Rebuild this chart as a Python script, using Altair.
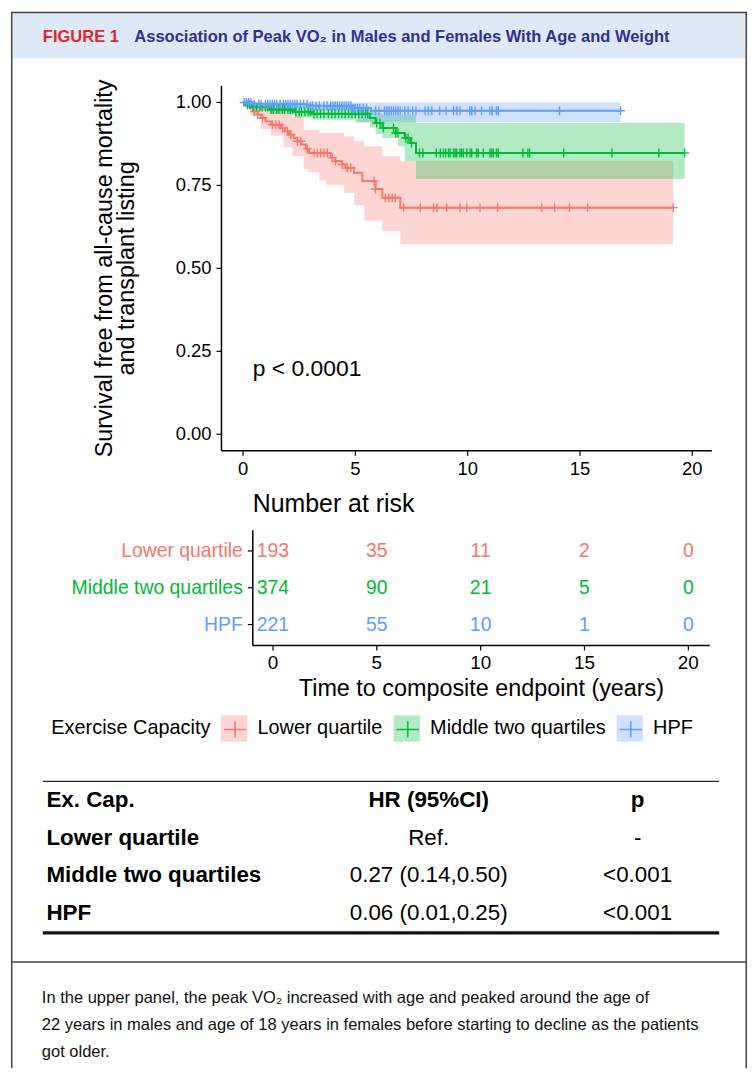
import altair as alt
import pandas as pd

# ---------------- data ----------------
GROUPS = ["Lower quartile", "Middle two quartiles", "HPF"]
COLORS = ["#F8766D", "#00BA38", "#619CFF"]

# Kaplan-Meier step estimates (years, survival)
lower_t = [0, 0.15, 0.3, 0.45, 0.65, 0.8, 1.0, 1.24, 1.68, 1.85, 2.05, 2.25, 2.42, 2.6, 2.8, 2.94,
           3.9, 4.1, 4.41, 4.56, 4.94, 5.31, 5.9, 6.2, 7.0, 19.15]
lower_s = [1.0, 0.99, 0.983, 0.973, 0.963, 0.953, 0.943, 0.933, 0.923, 0.913, 0.903, 0.893, 0.883,
           0.873, 0.86, 0.848, 0.833, 0.823, 0.813, 0.803, 0.788, 0.763, 0.739, 0.713, 0.683, 0.683]
middle_t = [0, 0.1, 0.4, 1.2, 2.3, 3.1, 5.65, 5.9, 6.2, 6.8, 7.2, 7.45, 7.7, 19.66]
middle_s = [1.0, 0.993, 0.986, 0.979, 0.972, 0.966, 0.953, 0.938, 0.923, 0.908, 0.893, 0.878, 0.848, 0.848]
hpf_t = [0, 0.45, 2.9, 4.9, 5.7, 16.81]
hpf_s = [1.0, 0.995, 0.99, 0.983, 0.975, 0.975]

# 95% confidence bands
lower_ci_t = [0, 0.3, 0.8, 1.24, 1.8, 2.2, 2.7, 2.9, 3.4, 3.7, 4.5, 4.95, 5.4, 6.2, 7.0, 19.15]
lower_hi = [1.0, 1.0, 0.99, 0.975, 0.965, 0.958, 0.918, 0.918, 0.908, 0.908, 0.898, 0.883, 0.868,
            0.838, 0.823, 0.823]
lower_lo = [1.0, 0.965, 0.92, 0.9, 0.865, 0.838, 0.8, 0.79, 0.765, 0.752, 0.728, 0.69, 0.644,
            0.613, 0.573, 0.573]
middle_ci_t = [0, 0.4, 1.2, 2.3, 3.1, 5.0, 5.65, 5.9, 6.2, 6.9, 7.2, 7.7, 19.66]
middle_hi = [1.0, 1.0, 1.0, 0.995, 0.99, 0.988, 0.975, 0.968, 0.963, 0.963, 0.963, 0.938, 0.938]
middle_lo = [1.0, 0.975, 0.965, 0.955, 0.948, 0.94, 0.925, 0.905, 0.893, 0.868, 0.823, 0.769, 0.769]
hpf_ci_t = [0, 0.45, 2.9, 4.9, 5.1, 16.81]
hpf_hi = [1.0, 1.0, 1.0, 1.0, 1.0, 1.0]
hpf_lo = [1.0, 0.985, 0.975, 0.96, 0.94, 0.94]

# censoring times
lower_cens = [0.5, 0.65, 0.87, 1.31, 1.46, 1.61, 1.76, 1.98, 2.13, 2.42, 2.57, 2.86, 3.16, 3.31,
              3.46, 3.6, 3.75, 3.97, 4.12, 4.41, 4.64, 4.8, 5.83, 5.9, 6.34, 6.49, 6.64, 6.78,
              7.15, 7.89, 8.48, 8.63, 9.07, 9.66, 9.96, 10.55, 11.33, 13.3, 13.87, 14.53, 15.34, 19.15]
middle_cens = [0.2, 0.3, 0.45, 0.6, 0.75, 0.85, 1.0, 1.1, 1.25, 1.35, 1.5, 1.6, 1.75, 1.85, 2.0,
               2.1, 2.2, 2.35, 2.5, 2.6, 2.75, 2.9, 3.0, 3.15, 3.3, 3.45, 3.6, 3.8, 3.95, 4.1,
               4.25, 4.4, 4.55, 4.7, 4.85, 5.0, 5.15, 5.3, 5.45, 5.55, 5.95, 6.1, 6.25, 6.7, 6.8,
               6.9, 7.25, 7.35, 7.5, 7.85, 8.0, 8.6, 8.78, 8.92, 9.03, 9.15, 9.22, 9.37, 9.44,
               9.51, 9.66, 9.73, 9.81, 9.96, 10.1, 10.18, 10.4, 10.47, 10.69, 10.99, 11.06, 11.14,
               11.28, 11.36, 12.46, 12.68, 12.76, 14.28, 16.42, 18.51, 19.66]
hpf_cens = [0.05, 0.15, 0.25, 0.35, 0.5, 0.7, 0.8, 1.0, 1.1, 1.2, 1.3, 1.4, 1.5, 1.65, 1.8, 1.9,
            2.0, 2.1, 2.2, 2.3, 2.4, 2.55, 2.7, 2.85, 3.0, 3.1, 3.25, 3.4, 3.6, 3.75, 3.9, 4.0,
            4.1, 4.2, 4.3, 4.4, 4.5, 4.6, 4.7, 4.8, 4.9, 5.0, 5.1, 5.2, 5.35, 5.5, 5.9, 6.05,
            6.3, 6.4, 6.5, 6.6, 6.7, 6.8, 6.9, 7.0, 7.2, 7.35, 7.55, 7.7, 8.1, 8.25, 8.4, 8.75,
            9.03, 9.37, 9.51, 9.66, 10.1, 10.18, 10.33, 10.62, 10.99, 11.09, 11.28, 11.36,
            14.09, 16.81]

# number at risk
risk_times = [0, 5, 10, 15, 20]
risk_lower = [193, 35, 11, 2, 0]
risk_middle = [374, 90, 21, 5, 0]
risk_hpf = [221, 55, 10, 1, 0]

# hazard ratio table
hr_header = ["Ex. Cap.", "HR (95%CI)", "p"]
hr_groups = ["Lower quartile", "Middle two quartiles", "HPF"]
hr_values = ["Ref.", "0.27 (0.14,0.50)", "0.06 (0.01,0.25)"]
hr_p = ["-", "<0.001", "<0.001"]

km_ticks_x = [0, 5, 10, 15, 20]
km_ticks_y = [0.0, 0.25, 0.5, 0.75, 1.0]

fig_label = "FIGURE 1"
fig_title = "Association of Peak VO\u2082 in Males and Females With Age and Weight"
caption = [
    "In the upper panel, the peak VO\u2082 increased with age and peaked around the age of",
    "22 years in males and age of 18 years in females before starting to decline as the patients",
    "got older.",
]

# ---------------- tables built from the arrays ----------------
series = [(GROUPS[0], lower_t, lower_s, lower_ci_t, lower_hi, lower_lo, lower_cens),
          (GROUPS[1], middle_t, middle_s, middle_ci_t, middle_hi, middle_lo, middle_cens),
          (GROUPS[2], hpf_t, hpf_s, hpf_ci_t, hpf_hi, hpf_lo, hpf_cens)]

line_rows, band_rows, cens_rows = [], [], []
for g, ts, ss, cts, his, los, cens in series:
    line_rows += [{"grp": g, "t": t, "s": s} for t, s in zip(ts, ss)]
    band_rows += [{"grp": g, "t": t, "hi": h, "lo": l} for t, h, l in zip(cts, his, los)]
    for c in cens:
        s_at = [s for t, s in zip(ts, ss) if t <= c][-1]
        cens_rows.append({"grp": g, "t": c, "s": s_at})
line_df = pd.DataFrame(line_rows)
band_df = pd.DataFrame(band_rows)
cens_df = pd.DataFrame(cens_rows)

risk_rows = []
for g, vals in zip(GROUPS, [risk_lower, risk_middle, risk_hpf]):
    risk_rows += [{"grp": g, "t": t, "n": str(n)} for t, n in zip(risk_times, vals)]
risk_df = pd.DataFrame(risk_rows)
grp_df = pd.DataFrame({"grp": GROUPS})

hr_df = pd.DataFrame({"row": [0, 1, 2, 3],
                      "c1": [hr_header[0]] + hr_groups,
                      "c2": [hr_header[1]] + hr_values,
                      "c3": [hr_header[2]] + hr_p})

xt_df = pd.DataFrame({"v": km_ticks_x, "lab": [str(v) for v in km_ticks_x]})
yt_df = pd.DataFrame({"v": km_ticks_y, "lab": ["%.2f" % v for v in km_ticks_y]})
one = pd.DataFrame({"k": [0]})

# ---------------- layout (page pixels -> chart pixels) ----------------
OX, OY = 10, 8
W, H = 740, 1062


def px(x):
    return x - OX


def py(y):
    return y - OY


FONT = "Liberation Sans, Arial, DejaVu Sans"
INK = "#000000"
FRAME = "#444444"

kx = alt.Scale(domain=[0, 20], range=[px(243.3), px(695.0)], nice=False, zero=False)
ky = alt.Scale(domain=[0, 1], range=[py(432.7), py(99.1)], nice=False, zero=False)
KX0, KX1, KY0, KY1 = -0.96, 20.87, -0.05, 1.05

rx = alt.Scale(domain=[0, 20], range=[px(273.4), px(691.0)], nice=False, zero=False)
ry = alt.Scale(type="point", domain=GROUPS, range=[py(550), py(624)], padding=0)
RX0, RX1 = -0.972, 21.03

hy = alt.Scale(domain=[0, 3], range=[py(800), py(914.5)], nice=False, zero=False)

col = alt.Scale(domain=GROUPS, range=COLORS)

KEY_X = [220.8, 394.4, 618.6]   # legend key left edges (page px)
KEY_Y = 715
leg_common = dict(orient="none", legendY=py(KEY_Y), title=None, symbolSize=702, padding=0,
                  labelFont=FONT, labelFontSize=20, labelColor=INK, labelOffset=10,
                  labelLimit=400)

layers = []

# frame and header band
layers.append(alt.Chart(one).mark_rect(fill="#dde9f5").encode(
    x=alt.value(1.5), x2=alt.value(W - 1.5), y=alt.value(1.5), y2=alt.value(py(55))))
layers.append(alt.Chart(one).mark_rule(color=FRAME, strokeWidth=1.5).encode(
    x=alt.value(0.75), x2=alt.value(W - 0.75), y=alt.value(0.75)))
layers.append(alt.Chart(one).mark_rule(color=FRAME, strokeWidth=1.5).encode(
    x=alt.value(0.75), y=alt.value(0), y2=alt.value(H)))
layers.append(alt.Chart(one).mark_rule(color=FRAME, strokeWidth=1.5).encode(
    x=alt.value(W - 0.75), y=alt.value(0), y2=alt.value(H)))
layers.append(alt.Chart(one).mark_text(align="left", baseline="middle", font=FONT,
                                       fontSize=16.6, fontWeight="bold", color="#e3262d").encode(
    x=alt.value(px(42)), y=alt.value(py(33)), text=alt.value(fig_label)))
layers.append(alt.Chart(one).mark_text(align="left", baseline="middle", font=FONT,
                                       fontSize=16.6, fontWeight="bold", color="#2e3192").encode(
    x=alt.value(px(134)), y=alt.value(py(33)), text=alt.value(fig_title)))

# --- KM plot: bands, lines (each with its own legend key) ---
band_layers, line_layers = [], []
for i, g in enumerate(GROUPS):
    one_col = alt.Scale(domain=[g], range=[COLORS[i]])
    band_layers.append(alt.Chart(band_df[band_df.grp == g]).mark_area(
        interpolate="step-after", opacity=0.3).encode(
        x=alt.X("t:Q", scale=kx, axis=None),
        y=alt.Y("lo:Q", scale=ky, axis=None),
        y2="hi:Q",
        fill=alt.Fill("grp:N", scale=one_col,
                      legend=alt.Legend(legendX=px(KEY_X[i]), symbolType="square",
                                        symbolOpacity=0.3, symbolStrokeWidth=0,
                                        **leg_common))))
    line_layers.append(alt.Chart(line_df[line_df.grp == g]).mark_line(
        interpolate="step-after", strokeWidth=2).encode(
        x=alt.X("t:Q", scale=kx, axis=None),
        y=alt.Y("s:Q", scale=ky, axis=None),
        stroke=alt.Stroke("grp:N", scale=one_col,
                          legend=alt.Legend(legendX=px(KEY_X[i]),
                                            symbolType="M-0.85,0H0.85M0,-0.6V0.6",
                                            symbolStrokeWidth=1.6,
                                            symbolFillColor="transparent",
                                            labelExpr="''", labelOpacity=0,
                                            **leg_common))))
layers += band_layers + line_layers

layers.append(alt.Chart(cens_df).mark_point(shape="M0,-1V1M-1,0H1", size=81, strokeWidth=1.4,
                                            filled=False, opacity=1).encode(
    x=alt.X("t:Q", scale=kx, axis=None),
    y=alt.Y("s:Q", scale=ky, axis=None),
    stroke=alt.Stroke("grp:N", scale=col, legend=None)))

# legend title
layers.append(alt.Chart(one).mark_text(align="left", baseline="middle", font=FONT,
                                       fontSize=20, color=INK).encode(
    x=alt.value(px(50.6)), y=alt.value(py(KEY_Y + 13.3)),
    text=alt.value("Exercise Capacity")))

# KM axes
layers.append(alt.Chart(one).mark_rule(color=INK, strokeWidth=1.5).encode(
    x=alt.XDatum(KX0, type="quantitative", scale=kx, axis=None),
    y=alt.YDatum(KY0, type="quantitative", scale=ky, axis=None),
    y2=alt.Y2Datum(KY1)))
layers.append(alt.Chart(one).mark_rule(color=INK, strokeWidth=1.5).encode(
    x=alt.XDatum(KX0, type="quantitative", scale=kx, axis=None),
    x2=alt.X2Datum(KX1),
    y=alt.YDatum(KY0, type="quantitative", scale=ky, axis=None)))
layers.append(alt.Chart(xt_df).mark_rule(color=INK, strokeWidth=1.2, y2Offset=5).encode(
    x=alt.X("v:Q", scale=kx, axis=None),
    y=alt.YDatum(KY0, type="quantitative", scale=ky, axis=None),
    y2=alt.Y2Datum(KY0)))
layers.append(alt.Chart(xt_df).mark_text(baseline="middle", dy=18.4, font=FONT, fontSize=18.5,
                                         color=INK).encode(
    x=alt.X("v:Q", scale=kx, axis=None),
    y=alt.YDatum(KY0, type="quantitative", scale=ky, axis=None),
    text="lab:N"))
layers.append(alt.Chart(yt_df).mark_rule(color=INK, strokeWidth=1.2, x2Offset=-5).encode(
    x=alt.XDatum(KX0, type="quantitative", scale=kx, axis=None),
    x2=alt.X2Datum(KX0),
    y=alt.Y("v:Q", scale=ky, axis=None)))
layers.append(alt.Chart(yt_df).mark_text(align="right", baseline="middle", dx=-10, font=FONT,
                                         fontSize=18.5, color=INK).encode(
    x=alt.XDatum(KX0, type="quantitative", scale=kx, axis=None),
    y=alt.Y("v:Q", scale=ky, axis=None),
    text="lab:N"))
layers.append(alt.Chart(one).mark_text(angle=270, align="center", baseline="alphabetic",
                                       font=FONT, fontSize=23.5, color=INK).encode(
    x=alt.value(px(112)), y=alt.value(py(265.9)),
    text=alt.value("Survival free from all-cause mortality")))
layers.append(alt.Chart(one).mark_text(angle=270, align="center", baseline="alphabetic",
                                       font=FONT, fontSize=23.5, color=INK).encode(
    x=alt.value(px(133.5)), y=alt.value(py(265.9)),
    text=alt.value("and transplant listing")))
layers.append(alt.Chart(one).mark_text(align="left", baseline="middle", font=FONT,
                                       fontSize=23, color=INK).encode(
    x=alt.XDatum(0.43, type="quantitative", scale=kx, axis=None),
    y=alt.YDatum(0.197, type="quantitative", scale=ky, axis=None),
    text=alt.value("p < 0.0001")))

# --- risk table ---
layers.append(alt.Chart(one).mark_text(align="left", baseline="middle", font=FONT,
                                       fontSize=25, color=INK).encode(
    x=alt.XDatum(RX0, type="quantitative", scale=rx, axis=None),
    y=alt.value(py(503)), text=alt.value("Number at risk")))
layers.append(alt.Chart(risk_df).mark_text(align="center", baseline="middle", font=FONT,
                                           fontSize=19.5).encode(
    x=alt.X("t:Q", scale=rx, axis=None),
    y=alt.Y("grp:N", scale=ry, axis=None),
    text="n:N",
    color=alt.Color("grp:N", scale=col, legend=None)))
layers.append(alt.Chart(grp_df).mark_text(align="right", baseline="middle", dx=-10, font=FONT,
                                          fontSize=19.5).encode(
    x=alt.XDatum(RX0, type="quantitative", scale=rx, axis=None),
    y=alt.Y("grp:N", scale=ry, axis=None),
    text="grp:N",
    color=alt.Color("grp:N", scale=col, legend=None)))
layers.append(alt.Chart(grp_df).mark_rule(color=INK, strokeWidth=1.2, x2Offset=-5).encode(
    x=alt.XDatum(RX0, type="quantitative", scale=rx, axis=None),
    x2=alt.X2Datum(RX0),
    y=alt.Y("grp:N", scale=ry, axis=None)))
layers.append(alt.Chart(one).mark_rule(color=INK, strokeWidth=1.5).encode(
    x=alt.XDatum(RX0, type="quantitative", scale=rx, axis=None),
    y=alt.value(py(529.3)), y2=alt.value(py(645))))
layers.append(alt.Chart(one).mark_rule(color=INK, strokeWidth=1.5).encode(
    x=alt.XDatum(RX0, type="quantitative", scale=rx, axis=None),
    x2=alt.X2Datum(RX1), y=alt.value(py(645))))
layers.append(alt.Chart(xt_df).mark_rule(color=INK, strokeWidth=1.2).encode(
    x=alt.X("v:Q", scale=rx, axis=None),
    y=alt.value(py(645)), y2=alt.value(py(650))))
layers.append(alt.Chart(xt_df).mark_text(baseline="middle", font=FONT, fontSize=19,
                                         color=INK).encode(
    x=alt.X("v:Q", scale=rx, axis=None),
    y=alt.value(py(662.5)), text="lab:N"))
layers.append(alt.Chart(one).mark_text(align="center", baseline="middle", font=FONT,
                                       fontSize=23.5, color=INK).encode(
    x=alt.value(px(483)), y=alt.value(py(689)),
    text=alt.value("Time to composite endpoint (years)")))

# --- hazard ratio table ---
layers.append(alt.Chart(one).mark_rule(color="#222222", strokeWidth=1.2).encode(
    x=alt.value(px(42)), x2=alt.value(px(722)), y=alt.value(py(781.7))))
layers.append(alt.Chart(one).mark_rule(color="#111111", strokeWidth=3.2).encode(
    x=alt.value(px(42)), x2=alt.value(px(722)), y=alt.value(py(934))))
layers.append(alt.Chart(hr_df).mark_text(align="left", baseline="middle", font=FONT,
                                         fontSize=22.5, fontWeight="bold", color=INK).encode(
    x=alt.value(px(45.6)), y=alt.Y("row:Q", scale=hy, axis=None), text="c1:N"))
layers.append(alt.Chart(hr_df).transform_filter("datum.row == 0").mark_text(
    align="center", baseline="middle", font=FONT, fontSize=22.5, fontWeight="bold",
    color=INK).encode(
    x=alt.value(px(430)), y=alt.Y("row:Q", scale=hy, axis=None), text="c2:N"))
layers.append(alt.Chart(hr_df).transform_filter("datum.row == 0").mark_text(
    align="center", baseline="middle", font=FONT, fontSize=22.5, fontWeight="bold",
    color=INK).encode(
    x=alt.value(px(640)), y=alt.Y("row:Q", scale=hy, axis=None), text="c3:N"))
layers.append(alt.Chart(hr_df).transform_filter("datum.row > 0").mark_text(
    align="center", baseline="middle", font=FONT, fontSize=22.5, color=INK).encode(
    x=alt.value(px(430)), y=alt.Y("row:Q", scale=hy, axis=None), text="c2:N"))
layers.append(alt.Chart(hr_df).transform_filter("datum.row > 0").mark_text(
    align="center", baseline="middle", font=FONT, fontSize=22.5, color=INK).encode(
    x=alt.value(px(640)), y=alt.Y("row:Q", scale=hy, axis=None), text="c3:N"))

# --- caption box ---
layers.append(alt.Chart(one).mark_rule(color=FRAME, strokeWidth=1.5).encode(
    x=alt.value(0), x2=alt.value(W), y=alt.value(py(963.3))))
for i, line in enumerate(caption):
    layers.append(alt.Chart(one).mark_text(align="left", baseline="middle", font=FONT,
                                           fontSize=16.6, color="#111111").encode(
        x=alt.value(px(41)), y=alt.value(py(1000 + 26.7 * i)), text=alt.value(line)))

chart = alt.layer(*layers).properties(
    width=W, height=H,
    padding={"left": OX - 8, "top": OY - 8, "right": 0, "bottom": 0},
).resolve_scale(
    x="independent", y="independent", color="independent", fill="independent",
    stroke="independent"
).configure_view(stroke=None)

chart.save("out.html", embed_options={"renderer": "svg", "actions": False})
